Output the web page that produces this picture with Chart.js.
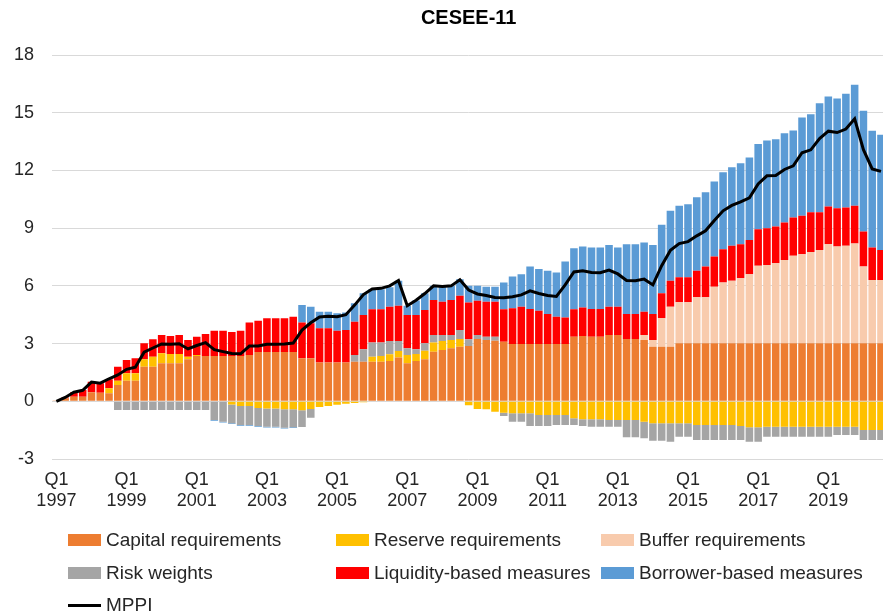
<!DOCTYPE html>
<html>
<head>
<meta charset="utf-8">
<script src="https://cdn.jsdelivr.net/npm/chart.js@4.4.1/dist/chart.umd.min.js"></script>
<style>
  html, body { margin: 0; padding: 0; background: #fff; overflow: hidden; }
  #wrap { position: relative; width: 883px; height: 616px; overflow: hidden; }
  #chart { position: absolute; left: 0; top: 0; }
  .item { position: absolute; font-family: "Liberation Sans", Arial, sans-serif; font-size: 19px;
          color: #262626; white-space: nowrap; line-height: 22px; }
  .swatch { position: absolute; left: 0; top: 5px; width: 33px; height: 12px; }
  .dash { position: absolute; left: 0; top: 10px; width: 33px; height: 3px; background: #000; }
  .item span.txt { padding-left: 38px; }
</style>
</head>
<body>
<div id="wrap">
  <canvas id="chart" width="891" height="616"></canvas>
  <div id="legend"></div>
</div>
<script>
// quarters Q1 1997 .. Q3 2020
const quarters = [];
for (let y = 1997; y <= 2020; y++) {
  ['Q1', 'Q2', 'Q3', 'Q4'].forEach(q => quarters.push(q + ' ' + y));
}
quarters.length = 95;

const capital = [
  0.04, 0.15, 0.24, 0.24, 0.47, 0.45, 0.42, 0.85, 1.07, 1.07, 1.80, 1.80, 1.98, 1.98, 1.98, 2.18,
  2.36, 2.36, 2.36, 2.36, 2.36, 2.36, 2.41, 2.56, 2.56, 2.56, 2.56, 2.56, 2.24, 2.24, 2.01, 2.01,
  2.01, 2.01, 2.06, 2.06, 2.06, 2.06, 2.10, 2.27, 1.98, 2.10, 2.18, 2.58, 2.67, 2.76, 2.84, 2.88,
  3.24, 3.19, 3.15, 3.10, 2.98, 2.98, 2.98, 2.98, 2.98, 2.98, 2.98, 3.36, 3.40, 3.36, 3.36, 3.45,
  3.45, 3.24, 3.24, 3.19, 2.84, 2.84, 2.84, 3.02, 3.02, 3.02, 3.02, 3.02, 3.02, 3.02, 3.02, 3.02,
  3.02, 3.02, 3.02, 3.02, 3.02, 3.02, 3.02, 3.02, 3.02, 3.02, 3.02, 3.02, 3.02, 3.02, 3.02
];
const reserve = [
  0, 0, 0, 0, 0, 0, 0.26, 0.22, 0.39, 0.39, 0.38, 0.52, 0.52, 0.48, 0.48, 0.14,
  0.05, 0, 0, 0, -0.17, -0.24, -0.24, -0.35, -0.38, -0.38, -0.42, -0.42, -0.46, -0.40, -0.30, -0.25,
  -0.18, -0.13, -0.09, -0.05, 0.26, 0.30, 0.34, 0.35, 0.43, 0.36, 0.45, 0.47, 0.47, 0.43, 0.40, -0.20,
  -0.40, -0.42, -0.54, -0.59, -0.62, -0.62, -0.62, -0.71, -0.71, -0.71, -0.71, -0.88, -0.94, -0.94, -0.94, -0.97,
  -0.97, -0.97, -0.97, -1.06, -1.14, -1.14, -1.14, -1.14, -1.14, -1.23, -1.23, -1.23, -1.23, -1.23, -1.28, -1.35,
  -1.35, -1.32, -1.32, -1.32, -1.32, -1.32, -1.32, -1.32, -1.32, -1.32, -1.32, -1.32, -1.49, -1.49, -1.49
];
const buffer = [
  0, 0, 0, 0, 0, 0, 0, 0, 0, 0, 0, 0, 0, 0, 0, 0,
  0, 0, 0, 0, 0, 0, 0, 0, 0, 0, 0, 0, 0, 0, 0, 0,
  0, 0, 0, 0, 0, 0, 0, 0, 0, 0, 0, 0, 0, 0, 0, 0,
  0, 0, 0, 0, 0, 0, 0, 0, 0, 0, 0, 0, 0, 0, 0, 0,
  0, 0, 0, 0.26, 0.35, 1.48, 2.08, 2.13, 2.13, 2.39, 2.39, 2.94, 3.15, 3.24, 3.38, 3.58,
  4.03, 4.07, 4.15, 4.33, 4.54, 4.62, 4.74, 4.85, 5.14, 5.02, 5.07, 5.18, 3.98, 3.29, 3.29
];
const riskWeights = [
  0, 0, 0, 0, 0, 0, 0, -0.45, -0.45, -0.45, -0.45, -0.45, -0.45, -0.45, -0.45, -0.45,
  -0.45, -0.45, -0.97, -1.06, -0.97, -0.99, -0.99, -0.93, -0.94, -0.94, -0.95, -0.93, -0.88, -0.46, 0, 0,
  0, 0, 0.35, 0.64, 0.73, 0.69, 0.70, 0.52, 0.35, 0.24, 0.39, 0.40, 0.31, 0.26, 0.47, 0.34,
  0.21, 0.17, 0.21, -0.17, -0.44, -0.44, -0.66, -0.57, -0.57, -0.52, -0.52, -0.35, -0.34, -0.38, -0.38, -0.35,
  -0.35, -0.90, -0.90, -0.86, -0.91, -0.91, -0.96, -0.70, -0.70, -0.78, -0.78, -0.78, -0.78, -0.78, -0.73, -0.75,
  -0.75, -0.52, -0.52, -0.52, -0.52, -0.52, -0.52, -0.52, -0.52, -0.43, -0.43, -0.43, -0.52, -0.52, -0.52
];
const liquidity = [
  0, 0.05, 0.23, 0.35, 0.55, 0.49, 0.46, 0.73, 0.69, 0.78, 0.84, 0.90, 0.95, 0.94, 0.99, 0.87,
  0.95, 1.14, 1.30, 1.30, 1.24, 1.31, 1.68, 1.62, 1.76, 1.76, 1.76, 1.84, 1.85, 1.82, 1.79, 1.79,
  1.66, 1.70, 1.73, 1.79, 1.73, 1.73, 1.78, 1.83, 1.73, 1.79, 1.73, 1.82, 1.73, 1.82, 1.78, 1.91,
  1.77, 1.82, 1.82, 1.68, 1.86, 1.94, 1.82, 1.73, 1.56, 1.42, 1.37, 1.42, 1.47, 1.44, 1.44, 1.47,
  1.47, 1.30, 1.30, 1.21, 1.35, 1.30, 1.35, 1.30, 1.30, 1.37, 1.59, 1.56, 1.73, 1.82, 1.76, 1.79,
  1.89, 1.91, 1.91, 1.94, 1.99, 2.01, 2.07, 1.96, 1.96, 1.99, 1.98, 1.97, 1.82, 1.68, 1.56
];
const borrower = [
  0, 0, 0, 0, 0, 0, 0, 0, 0, 0, 0, 0, 0, 0, 0, 0,
  0, 0, -0.04, -0.04, -0.04, -0.04, -0.04, -0.04, -0.04, -0.04, -0.04, -0.04, 0.91, 0.86, 0.86, 0.86,
  0.91, 0.90, 0.96, 1.13, 1.04, 1.04, 1.01, 1.30, 0.47, 0.75, 0.87, 0.73, 0.78, 0.74, 0.85, 0.88,
  0.79, 0.78, 0.78, 1.39, 1.64, 1.68, 2.20, 2.17, 2.25, 2.29, 2.91, 3.17, 3.17, 3.19, 3.19, 3.21,
  3.07, 3.62, 3.62, 3.59, 3.59, 3.55, 3.64, 3.71, 3.79, 3.83, 3.87, 3.90, 4.01, 4.09, 4.21, 4.28,
  4.44, 4.55, 4.54, 4.64, 4.52, 5.10, 5.09, 5.66, 5.72, 5.71, 5.91, 6.28, 6.28, 6.07, 5.98
];
const mppi = [
  0.00, 0.20, 0.47, 0.57, 1.00, 0.94, 1.17, 1.37, 1.66, 1.77, 2.55, 2.77, 2.98, 2.96, 2.99, 2.72,
  2.90, 3.05, 2.68, 2.58, 2.48, 2.47, 2.87, 2.88, 2.96, 2.96, 2.98, 3.03, 3.70, 4.08, 4.38, 4.42,
  4.40, 4.50, 5.00, 5.55, 5.84, 5.87, 6.00, 6.28, 4.97, 5.25, 5.60, 6.00, 5.97, 6.00, 6.32, 5.78,
  5.58, 5.50, 5.40, 5.38, 5.43, 5.53, 5.74, 5.60, 5.50, 5.45, 6.05, 6.72, 6.78, 6.70, 6.68, 6.82,
  6.62, 6.28, 6.27, 6.35, 6.05, 7.05, 7.85, 8.20, 8.30, 8.60, 8.86, 9.40, 9.90, 10.18, 10.37, 10.58,
  11.30, 11.72, 11.74, 12.05, 12.24, 12.92, 13.07, 13.66, 14.04, 13.97, 14.15, 14.68, 13.08, 12.08, 11.95
];

const seriesNames = ['Capital requirements', 'Reserve requirements', 'Buffer requirements',
                     'Risk weights', 'Liquidity-based measures', 'Borrower-based measures'];
const seriesColors = ['#ED7D31', '#FFC000', '#F8CBAD', '#A5A5A5', '#FF0000', '#5B9BD5'];
const seriesData = [capital, reserve, buffer, riskWeights, liquidity, borrower];

const textColor = '#262626';
const font = '"Liberation Sans", Arial, sans-serif';

const barSets = seriesNames.map((name, i) => ({
  type: 'bar',
  label: name,
  data: seriesData[i],
  backgroundColor: seriesColors[i],
  borderWidth: 0,
  barPercentage: 1,
  categoryPercentage: 0.86,
  order: 1
}));

new Chart(document.getElementById('chart'), {
  data: {
    labels: quarters,
    datasets: [{
      type: 'line',
      label: 'MPPI',
      data: mppi,
      borderColor: '#000',
      borderWidth: 3,
      pointRadius: 0,
      tension: 0,
      fill: false,
      stack: 'mppi',
      order: 0
    }, ...barSets]
  },
  options: {
    responsive: false,
    animation: false,
    layout: { padding: 0 },
    plugins: {
      legend: { display: false },
      tooltip: { enabled: false },
      title: {
        display: true,
        text: 'CESEE-11',
        fullSize: false,
        color: '#000',
        font: { family: font, size: 20, weight: 'bold', lineHeight: 1.2 },
        padding: { top: 6, bottom: 25 }
      }
    },
    scales: {
      x: {
        stacked: true,
        grid: { display: false, drawTicks: false },
        border: { display: false },
        afterFit: axis => { axis.height = 616 - 459; },
        ticks: {
          autoSkip: false,
          maxRotation: 0,
          padding: 10,
          color: textColor,
          font: { family: font, size: 18, lineHeight: 1.2 },
          callback: (v, i) => (i % 8 === 0 ? quarters[i].split(' ') : '')
        }
      },
      y: {
        stacked: true,
        min: -3,
        max: 18,
        border: { display: false },
        grid: { color: '#d9d9d9', lineWidth: 1, drawTicks: false },
        afterFit: axis => { axis.width = 52; },
        ticks: {
          stepSize: 3,
          padding: 18,
          color: textColor,
          font: { family: font, size: 18 }
        }
      }
    }
  }
});

// legend laid out in three columns like the original
const legend = document.getElementById('legend');
const cols = [68, 336, 601];
const rows = [529, 562, 594];
const order = [0, 1, 2, 3, 4, 5];
order.forEach((k, n) => {
  const el = document.createElement('div');
  el.className = 'item';
  el.style.left = cols[n % 3] + 'px';
  el.style.top = rows[Math.floor(n / 3)] + 'px';
  el.innerHTML = '<div class="swatch" style="background:' + seriesColors[k] + '"></div><span class="txt">' + seriesNames[k] + '</span>';
  legend.appendChild(el);
});
const m = document.createElement('div');
m.className = 'item';
m.style.left = cols[0] + 'px';
m.style.top = rows[2] + 'px';
m.innerHTML = '<div class="dash"></div><span class="txt">MPPI</span>';
legend.appendChild(m);
</script>
</body>
</html>
